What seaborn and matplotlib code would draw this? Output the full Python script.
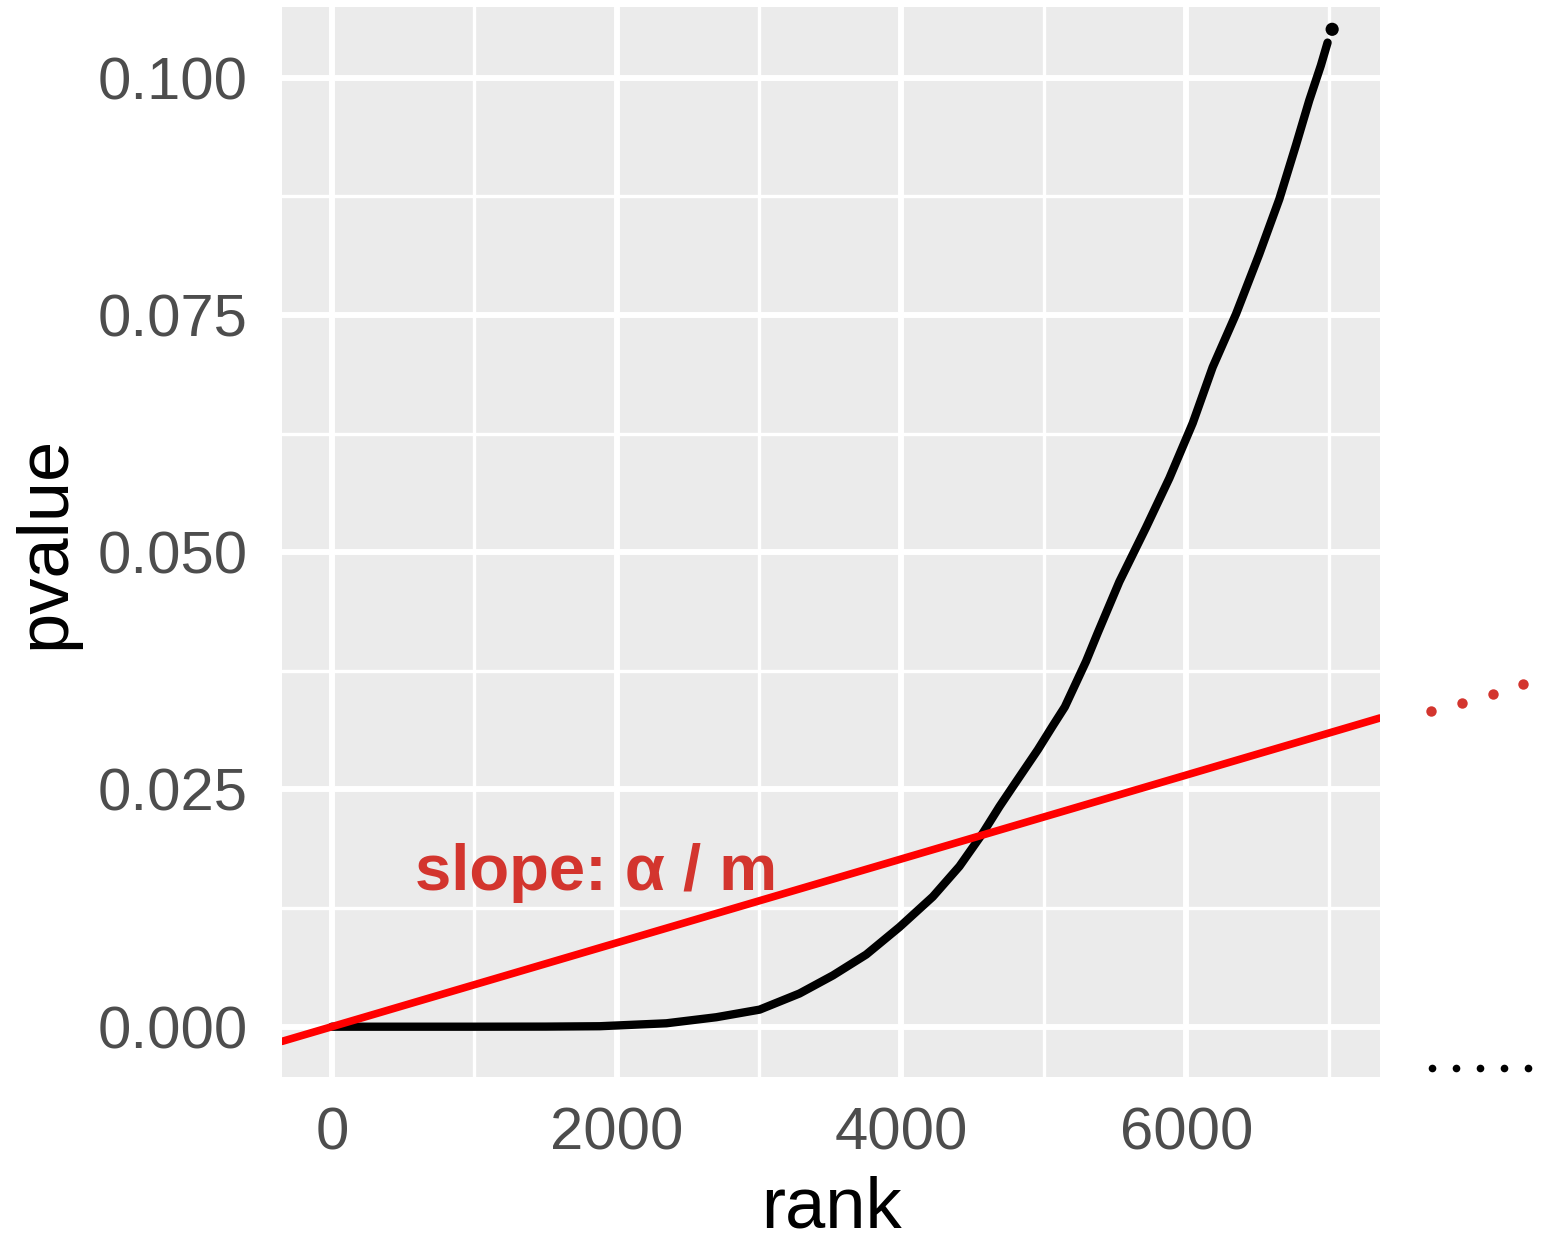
import matplotlib
matplotlib.use("Agg")
import matplotlib.pyplot as plt
import numpy as np
import pandas as pd
import seaborn as sns

# Sorted p-values against their rank
rank = [0, 1000, 1500, 1881, 2349, 2700, 3004, 3284, 3518, 3752, 3986, 4220,
        4407, 4571, 4688, 4782, 4958, 5062, 5147, 5296, 5378, 5530, 5717,
        5881, 6045, 6185, 6349, 6512, 6653, 6770, 6863, 6945, 6992]
pvalue = [0.0, 0.0, 0.00001, 0.00005, 0.00036, 0.0010, 0.0018, 0.0035,
          0.0054, 0.0076, 0.0105, 0.0137, 0.0169, 0.0204, 0.0232, 0.0253,
          0.0292, 0.0317, 0.0337, 0.0385, 0.0415, 0.0469, 0.0526, 0.0578,
          0.0636, 0.0695, 0.0751, 0.0814, 0.0872, 0.0929, 0.0976, 0.1013,
          0.1037]
last_rank = [7024]
last_pvalue = [0.1051]

# Benjamini-Hochberg threshold line: slope alpha / m
bh_slope = 4.42e-6

x_ticks = [0, 2000, 4000, 6000]
y_ticks = [0.000, 0.025, 0.050, 0.075, 0.100]
y_tick_labels = ["0.000", "0.025", "0.050", "0.075", "0.100"]

df = pd.DataFrame({"rank": rank, "pvalue": pvalue})
df_last = pd.DataFrame({"rank": last_rank, "pvalue": last_pvalue})

sns.set_theme(style="darkgrid")
plt.rcParams["font.family"] = ["Liberation Sans", "DejaVu Sans"]
plt.rcParams["axes.facecolor"] = "#EBEBEB"
plt.rcParams["grid.color"] = "white"

fig = plt.figure(figsize=(15.41, 12.42), dpi=100)
ax = fig.add_axes([282 / 1541, 1 - 1077 / 1242, (1380 - 282) / 1541, (1077 - 7) / 1242])

sns.lineplot(data=df, x="rank", y="pvalue", ax=ax, color="black",
             linewidth=6, estimator=None, sort=True, zorder=3)
sns.scatterplot(data=df_last, x="rank", y="pvalue", ax=ax, color="black",
                s=90, edgecolor="none", zorder=4)
ax.axline((0, 0), slope=bh_slope, color="#FF0000", linewidth=5.5, zorder=3)

red_text = "#D3352E"
ax.text(587, 0.0144, "slope: \u03b1 / m", color=red_text, fontsize=47,
        fontweight="bold", ha="left", va="baseline", zorder=5)

ax.set_xlim(-350, 7360)
ax.set_ylim(-0.0053, 0.10745)
ax.set_xticks(x_ticks)
ax.set_xticklabels([str(t) for t in x_ticks])
ax.set_yticks(y_ticks)
ax.set_yticklabels(y_tick_labels)
ax.set_xticks([1000, 3000, 5000, 7000], minor=True)
ax.set_yticks([0.0125, 0.0375, 0.0625, 0.0875], minor=True)
ax.grid(which="major", color="white", linewidth=4.3)
ax.grid(which="minor", color="white", linewidth=2.4)
for s in ax.spines.values():
    s.set_visible(False)

ax.tick_params(axis="both", which="major", length=12.5, width=4.5,
               color="#333333", labelcolor="#4D4D4D", labelsize=43)
ax.tick_params(axis="x", which="major", pad=9)
ax.tick_params(axis="y", which="major", pad=12)
ax.tick_params(axis="both", which="minor", length=0)

ax.set_xlabel("rank", fontsize=52, color="black", labelpad=10)
ax.set_ylabel("pvalue", fontsize=52, color="black", labelpad=13)

# continuation marks beside the panel
red_x = [1431, 1462, 1493, 1523]
red_y = [711, 703, 694, 684]
fig.add_artist(matplotlib.lines.Line2D(
    [x / 1541 for x in red_x], [1 - y / 1242 for y in red_y],
    transform=fig.transFigure, linestyle="none", marker="o",
    markersize=7.5, color=red_text, markeredgewidth=0))
blk_x = [1432, 1456, 1480, 1504, 1528]
fig.add_artist(matplotlib.lines.Line2D(
    [x / 1541 for x in blk_x], [1 - 1068 / 1242] * 5,
    transform=fig.transFigure, linestyle="none", marker="o",
    markersize=5.5, color="black", markeredgewidth=0))

fig.savefig("out.png", dpi=100, facecolor="white")
